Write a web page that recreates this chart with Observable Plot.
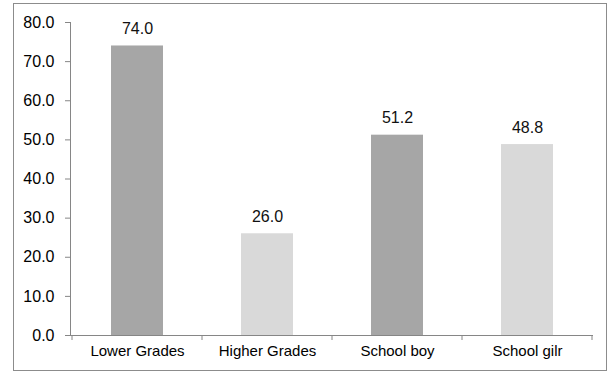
<!DOCTYPE html>
<html>
<head>
<meta charset="utf-8">
<script src="https://cdn.jsdelivr.net/npm/d3@7"></script>
<script src="https://cdn.jsdelivr.net/npm/@observablehq/plot@0.6"></script>
<style>
  html, body { margin: 0; padding: 0; background: #fff; }
  #wrap { position: relative; width: 610px; height: 373px; }
  #border { position: absolute; left: 13px; top: 3px; width: 592px; height: 366px; border: 1px solid #8c8c8c; pointer-events: none; }
</style>
</head>
<body>
<div id="wrap"><div id="border"></div></div>
<script>
const categories = ["Lower Grades", "Higher Grades", "School boy", "School gilr"];
const values = [74.0, 26.0, 51.2, 48.8];
const barColors = ["#a6a6a6", "#d9d9d9", "#a6a6a6", "#d9d9d9"];
const yTicks = [0, 10, 20, 30, 40, 50, 60, 70, 80];

const data = categories.map((c, i) => ({category: c, value: values[i], color: barColors[i]}));
const axisGray = "#868686";
const font = "Liberation Sans, Arial, sans-serif";
const innerPad = 0.6;

// Category boundary ticks below the baseline
function boundaryTicks(index, scales, values, dimensions) {
  const x = scales.x;
  const step = x(categories[1]) - x(categories[0]);
  const bw = step * (1 - innerPad);
  const gap = step - bw;
  const y0 = dimensions.height - dimensions.marginBottom;
  const xs = categories.map(c => x(c) - gap / 2).concat([x(categories[categories.length - 1]) + bw + gap / 2]);
  const g = d3.create("svg:g");
  g.selectAll("line").data(xs).join("line")
    .attr("x1", d => d).attr("x2", d => d)
    .attr("y1", y0).attr("y2", y0 + 5)
    .attr("stroke", axisGray);
  return g.node();
}

const chart = Plot.plot({
  width: 610,
  height: 373,
  marginLeft: 70,
  marginRight: 17,
  marginTop: 22,
  marginBottom: 38,
  style: {fontFamily: font, fontSize: "15px", color: "#000", background: "transparent"},
  x: {domain: categories, paddingInner: innerPad, paddingOuter: innerPad / 2, label: null},
  y: {domain: [0, 80], label: null},
  marks: [
    Plot.barY(data, {x: "category", y: "value", fill: "color"}),
    Plot.frame({anchor: "left", stroke: axisGray}),
    Plot.ruleY([0], {stroke: axisGray}),
    Plot.axisY({ticks: yTicks, tickSize: 5, tickPadding: 11, stroke: axisGray, tickFormat: d3.format(".1f"), fill: "#000", fontSize: 16, label: null}),
    Plot.axisX({tickSize: 0, tickPadding: 10, fill: "#000", fontSize: 15, label: null}),
    boundaryTicks,
    Plot.text(data, {x: "category", y: "value", text: d => d3.format(".1f")(d.value), dy: -12, lineAnchor: "bottom", fontSize: 16, fill: "#111"})
  ]
});
document.getElementById("wrap").prepend(chart);
</script>
</body>
</html>
